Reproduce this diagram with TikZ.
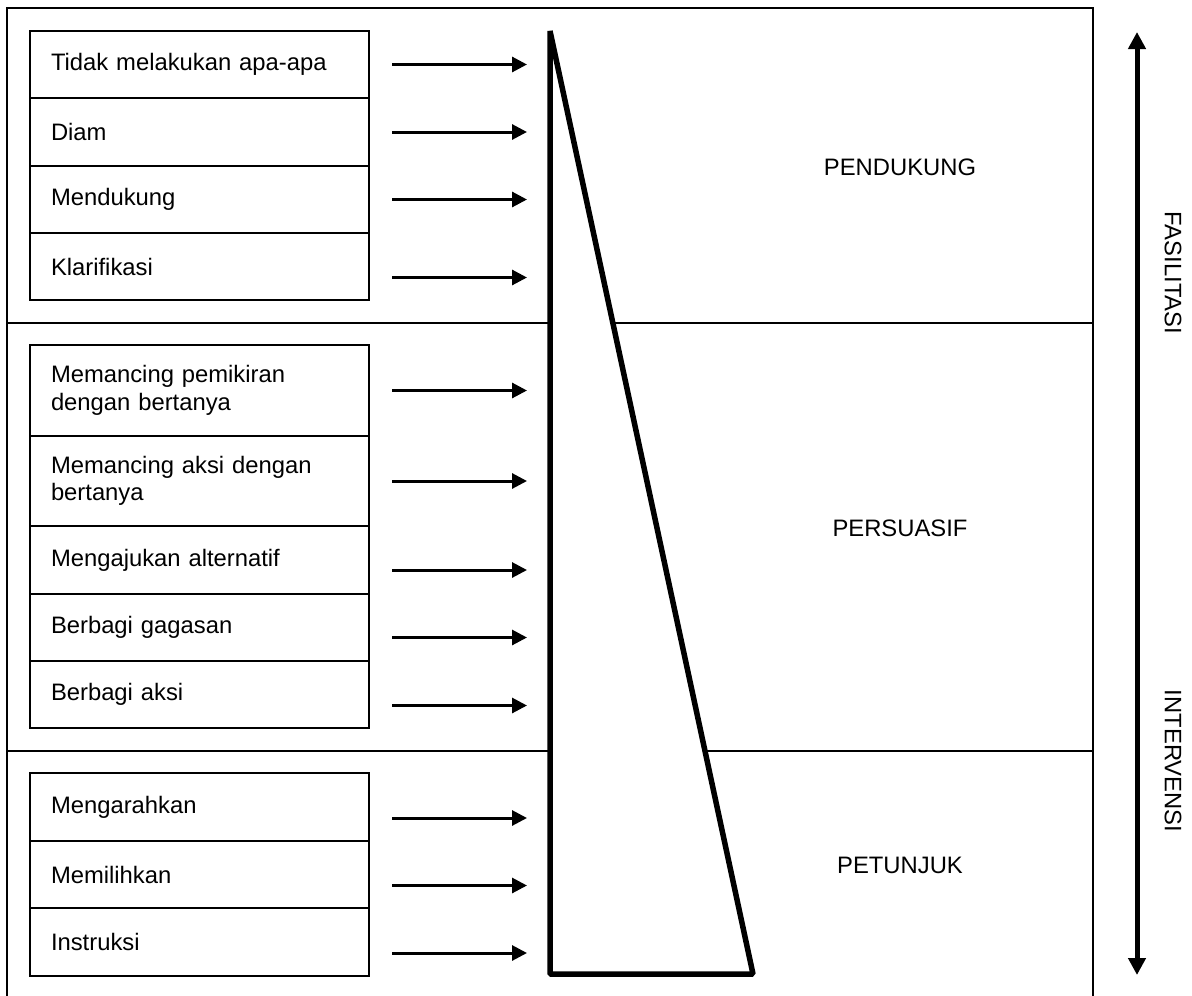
\documentclass[tikz,border=0pt]{standalone}
\usepackage{fontspec}
\setmainfont{Liberation Sans}
\usepackage{tikz}
\usetikzlibrary{arrows.meta,positioning}

\begin{document}
\begin{tikzpicture}[x=1pt,y=-1pt,
    font=\fontsize{23.8}{27.4}\selectfont,
    row/.style={draw, line width=1.5pt, outer sep=0pt, inner xsep=21pt, inner ysep=0pt,
        text width=297pt, minimum width=339pt, align=left},
    arr/.style={line width=3pt, -{Triangle[length=15pt,width=15pt]}},
    frame/.style={line width=1.5pt},
    wedge/.style={line width=5.5pt, fill=white, line join=bevel},
    scalearrow/.style={line width=5pt, {Triangle[length=17pt,width=17pt]}-{Triangle[length=17pt,width=17pt]}}]
\useasboundingbox (0,0) rectangle (1192,996);
\draw[frame] (7,996) -- (7,8) -- (1093,8) -- (1093,996);
\draw[frame] (7,323) -- (1093,323);
\draw[frame] (7,751) -- (1093,751);

% pendukung
\node (t1) [row, minimum height=67pt, anchor=north west] at (30,31) {Tidak melakukan apa-apa};
\node (t2) [row, minimum height=68pt, below=0pt of t1] {Diam};
\node (t3) [row, minimum height=67pt, below=0pt of t2] {Mendukung};
\node (t4) [row, minimum height=67pt, below=0pt of t3] {Klarifikasi};
% persuasif
\node (p1) [row, minimum height=91pt, anchor=north west] at (30,345) {Memancing pemikiran\\dengan bertanya};
\node (p2) [row, minimum height=90pt, below=0pt of p1] {Memancing aksi dengan\\bertanya};
\node (p3) [row, minimum height=68pt, below=0pt of p2] {Mengajukan alternatif};
\node (p4) [row, minimum height=67pt, below=0pt of p3] {Berbagi gagasan};
\node (p5) [row, minimum height=67pt, below=0pt of p4] {Berbagi aksi};
% petunjuk
\node (u1) [row, minimum height=68pt, anchor=north west] at (30,773) {Mengarahkan};
\node (u2) [row, minimum height=67pt, below=0pt of u1] {Memilihkan};
\node (u3) [row, minimum height=68pt, below=0pt of u2] {Instruksi};

\foreach \n/\d in {t1/0,t2/0,t3/0,t4/11,p1/0,p2/0,p3/10,p4/10,p5/11,u1/11,u2/11,u3/11}
    \draw[arr] ([shift={(23,\d)}]\n.east) -- ++(135,0);

\draw[wedge] (550,31) -- (753,974) -- (550,974) -- cycle;

\node (pendukung) at (900,167) {PENDUKUNG};
\node (persuasif) at (900,528) {PERSUASIF};
\node (petunjuk) at (900,865) {PETUNJUK};

\coordinate (atas) at (1137,32);
\coordinate (bawah) at (1137,975);
\draw[scalearrow] (atas) -- (bawah);
\node (fasilitasi) [rotate=-90] at (1173,273) {FASILITASI};
\node (intervensi) [rotate=-90] at (1173,761) {INTERVENSI};
\end{tikzpicture}
\end{document}
